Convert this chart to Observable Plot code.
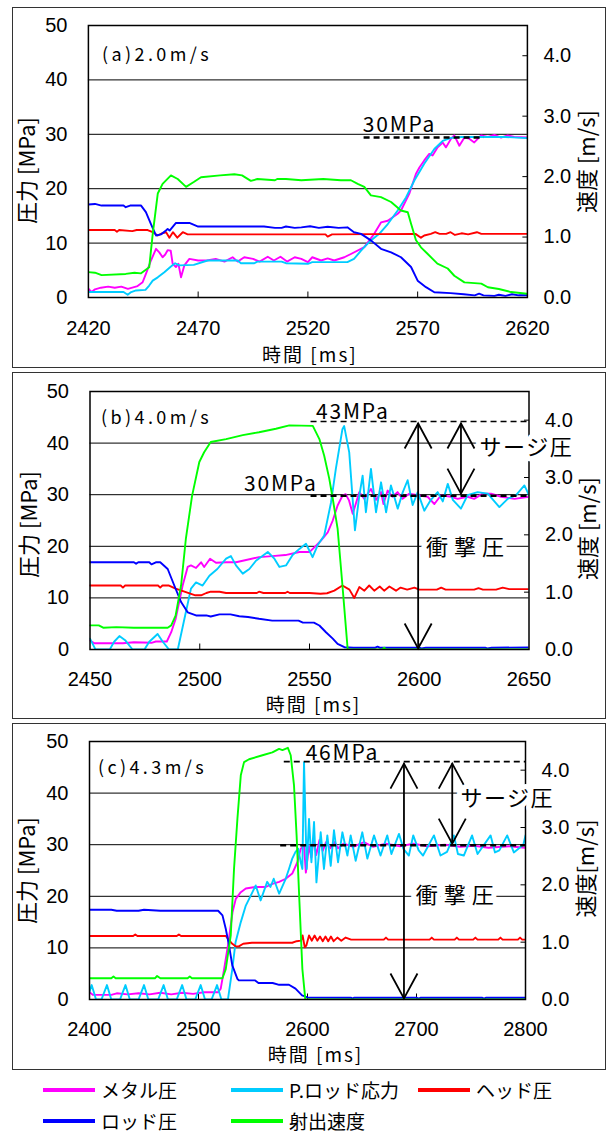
<!DOCTYPE html>
<html><head><meta charset="utf-8">
<script src="https://cdn.jsdelivr.net/npm/d3@7"></script>
<script src="https://cdn.jsdelivr.net/npm/@observablehq/plot@0.6"></script>
<style>
html,body{margin:0;padding:0;background:#fff;}
body{width:608px;height:1135px;position:relative;overflow:hidden;font-family:"Noto Sans CJK JP",sans-serif;}
.box{position:absolute;border:1.5px solid #333;box-sizing:border-box;pointer-events:none;}
.panel{position:absolute;}
.leg{position:absolute;display:flex;align-items:center;font-size:19px;color:#000;height:24px;line-height:24px;}
.sw{display:inline-block;width:52px;height:4px;margin-right:6px;}
</style></head><body>
<script>
// ---------- ticks / categories ----------
const pressureTicks = [0, 10, 20, 30, 40, 50];
const gridTicks = [10, 20, 30, 40];
const speedTicks = [0, 1, 2, 3, 4];
const aTimeTicks = [2420, 2470, 2520, 2570, 2620];
const bTimeTicks = [2450, 2500, 2550, 2600, 2650];
const cTimeTicks = [2400, 2500, 2600, 2700, 2800];
const seriesNames = ["メタル圧", "P.ロッド応力", "ヘッド圧", "ロッド圧", "射出速度"];
const seriesColors = ["#ff00ff", "#00ccff", "#ff0000", "#0000ff", "#00ff00"];

// ---------- panel (a) 2.0 m/s : [time ms, MPa] / speed [time ms, m/s] ----------
const aMetal = [[2420,1.6],[2421.5,1.0],[2423,1.5],[2425.7,1.8],[2429,2.0],[2432,1.8],[2435,2.0],[2438,1.6],[2442.4,2.1],[2444.7,2.8],[2446.2,4.35],[2448.5,6.8],[2450.8,8.95],[2452.3,8.3],[2453.8,7.4],[2455,7.9],[2456.1,8.7],[2457.5,8.6],[2458.4,6.2],[2459.9,5.6],[2461,6.2],[2462.2,3.7],[2463.7,5.9],[2466,7.1],[2470,6.8],[2474,6.8],[2478,7.1],[2482,6.6],[2485.7,7.4],[2488,6.6],[2491,7.4],[2495,7.1],[2498,6.6],[2501.7,7.5],[2504.5,6.8],[2507.5,7.5],[2510.5,6.6],[2514,7.4],[2517,7.1],[2520,6.5],[2522,7.4],[2526,6.8],[2529,7.2],[2532,6.8],[2536.6,7.4],[2539.6,8.0],[2545.7,9.25],[2550.2,11.7],[2553.3,13.8],[2556.4,14.1],[2560.9,15.4],[2562.4,16],[2566.2,19.1],[2569.2,22.7],[2570.8,23.9],[2573,25.2],[2575.3,26.4],[2576.8,26.1],[2579.1,27.6],[2581.4,28.5],[2582.9,27.6],[2585.2,29.2],[2586.7,29.8],[2589,27.9],[2591.3,29.4],[2593.5,29.2],[2595.8,28.5],[2598.9,29.8],[2602,29.5],[2605,29.9],[2608,29.4],[2611,29.8],[2614,29.5],[2620,29.4]];
const aProd = [[2420,1.0],[2436,1.0],[2437.9,0.5],[2439.5,1.0],[2441.7,1.3],[2446,1.4],[2447.7,2.2],[2449.3,3.1],[2451.6,3.7],[2454.6,4.65],[2457.6,5.7],[2459.5,6.3],[2461.4,5.9],[2468,6.0],[2474.3,6.8],[2488,6.8],[2489.5,6.3],[2495.6,6.3],[2497,6.6],[2508,6.6],[2510,6.3],[2520,6.2],[2522,6.5],[2538,6.5],[2541,7.1],[2544.2,8.6],[2545.7,9.25],[2548.7,10.5],[2552.5,11.7],[2556.4,13.5],[2560.9,16],[2564.7,18.4],[2568.5,21.5],[2573,24.6],[2577.6,27.3],[2581.4,28.8],[2585.2,29.35],[2590,29.5],[2610,29.5],[2620,29.3]];
const aHead = [[2420,12.4],[2432,12.4],[2433,12.1],[2434,12.4],[2440,12.2],[2442,12.4],[2447,12.4],[2449.3,12.0],[2451.6,11.4],[2453.5,11.8],[2455.4,12.0],[2456.9,11.0],[2458.5,12.0],[2460.5,11.0],[2463,12.0],[2465.2,11.6],[2528,11.6],[2529,11.2],[2531,11.6],[2569,11.7],[2571.5,11.0],[2573,11.4],[2576,11.7],[2578,12.0],[2580,11.7],[2583,11.7],[2585,12.0],[2587,11.5],[2590,11.8],[2593,11.6],[2597,12.0],[2599,11.7],[2620,11.7]];
const aRod = [[2420,17.1],[2423,17.2],[2426,16.9],[2436,16.9],[2437,16.6],[2439,16.9],[2444,16.9],[2446.2,15.7],[2448.5,13.5],[2450.8,11.4],[2453,11.6],[2455,12.2],[2456.1,12.6],[2457,12.3],[2459.9,13.7],[2466,13.7],[2470,13.05],[2500,13.05],[2505,12.8],[2508,12.8],[2510,13.05],[2514,12.8],[2517,12.9],[2521,13.1],[2525,12.8],[2529,13.0],[2534,12.8],[2538,12.9],[2541,12.0],[2544.2,11.7],[2548.7,10.5],[2553.3,8.95],[2557.9,8.3],[2562.4,7.4],[2567,5.6],[2570,3.1],[2573.8,1.9],[2577.6,0.97],[2585,0.8],[2591,0.6],[2596,0.4],[2598,0.7],[2600,0.4],[2605,0.3],[2607,0.5],[2610,0.3],[2613,0.6],[2616,0.4],[2620,0.4]];
const aSpeed = [[2420,0.42],[2423,0.41],[2426,0.37],[2437,0.39],[2441,0.41],[2444,0.40],[2447.7,0.50],[2449.3,1.05],[2451.6,1.72],[2453.8,1.88],[2457.6,2.02],[2460.7,1.96],[2464.5,1.83],[2468,1.91],[2471.3,1.99],[2480,2.02],[2486.5,2.04],[2490,2.02],[2494,1.93],[2497,1.96],[2505,1.94],[2506,1.96],[2510,1.96],[2517,1.94],[2527,1.96],[2535,1.94],[2539.6,1.94],[2542.7,1.88],[2545.7,1.83],[2548.7,1.69],[2553.3,1.66],[2557.9,1.58],[2562.4,1.44],[2565.5,1.41],[2567,1.22],[2569.2,0.95],[2571.5,0.83],[2574.6,0.72],[2579,0.56],[2583.7,0.48],[2586.7,0.36],[2591.3,0.25],[2599,0.23],[2602,0.17],[2607,0.14],[2612.5,0.09],[2620,0.06]];

// ---------- panel (b) 4.0 m/s ----------
const bMetal = [[2450,1.75],[2452,1.2],[2465,1.2],[2470,1.4],[2478,1.3],[2480,1.55],[2485,1.55],[2487,3.35],[2489,5.9],[2492.2,12.4],[2494.5,16],[2496,16.3],[2498.3,15.8],[2500.6,16.9],[2502,16],[2504.7,17.6],[2507.4,16.8],[2512,16.9],[2516.5,16.9],[2519.6,17.2],[2527,17.9],[2533,18.1],[2539,18.3],[2545.4,18.9],[2550,18.9],[2552.2,19.8],[2555.2,21.1],[2558.3,22.7],[2560.6,25],[2562.8,27.9],[2565,29.8],[2566.5,30.1],[2568,28.9],[2569.7,26.3],[2572.7,30.5],[2575,29.2],[2578,31.1],[2580.3,29.0],[2582.6,30.5],[2583.7,28.2],[2585.6,30.8],[2587.8,29.6],[2590.1,30.5],[2592.4,29.2],[2595.4,30.2],[2599.3,29.9],[2603.8,29.6],[2606.9,28.2],[2609.9,29.9],[2614.5,29.6],[2617.5,29.2],[2622,29.6],[2625,29.2],[2628.9,30.2],[2632.7,30.2],[2637.3,29.6],[2643.4,29.2],[2650,29.6]];
const bProd = [[2450,2.1],[2452.5,0],[2459,0],[2461,1.5],[2463.4,2.6],[2466,1.8],[2469.4,0],[2474.8,0],[2477,1.5],[2480.8,3.0],[2483,1.6],[2486,0],[2490,0],[2493,5.9],[2496,11.8],[2498.3,13],[2501.3,12.4],[2504.4,14.3],[2508,15.6],[2512,17.6],[2514.2,18.1],[2516.5,16.3],[2519.6,14.7],[2522.6,15.6],[2525.6,17.2],[2531,18.9],[2534,17.6],[2536.3,16],[2539.3,16.3],[2542.3,18.3],[2545.4,19.5],[2548.4,20.5],[2551.4,17.9],[2553.7,20.2],[2556.7,22.1],[2559.8,28.5],[2562,35],[2565,42.7],[2565.8,43.3],[2568.1,38.2],[2570.7,23.1],[2572.7,29.8],[2574.2,33.7],[2575.7,26.6],[2578,35],[2580.3,26.6],[2582.6,32.4],[2584.9,26.6],[2587.1,31.8],[2590.2,27.3],[2592.5,30.5],[2594.7,32.8],[2597,28.0],[2599.3,30.5],[2602.3,26.9],[2605.3,29.0],[2608.4,30.5],[2610.7,28.7],[2613,32.1],[2615.3,29.0],[2619,27.3],[2622,29.9],[2626.6,30.5],[2631.2,30.2],[2636.5,27.6],[2640.3,29.2],[2644.1,29.9],[2647.9,31.8],[2650,29.9]];
const bHead = [[2450,12.4],[2464,12.4],[2465,12.0],[2466,12.4],[2481,12.4],[2482,12.0],[2483,12.4],[2486,12.4],[2489,11.8],[2493.7,11.1],[2498,10.5],[2500.6,10.5],[2503,10.95],[2505,11.2],[2509,11.2],[2512,10.95],[2526,10.95],[2527,11.2],[2529,10.95],[2539,10.95],[2540,11.2],[2541,10.95],[2550,10.95],[2555,10.8],[2558,10.9],[2561.3,11.4],[2565,12.4],[2568.2,11.6],[2570.4,10.0],[2572.7,12.1],[2575,11.4],[2577.2,12.4],[2579.5,11.4],[2582,12.2],[2584,11.4],[2586.4,12.2],[2589.4,11.4],[2591.5,12.0],[2594.5,11.6],[2597.8,12.0],[2600,11.6],[2608,11.6],[2610,12.0],[2612,11.6],[2625,11.6],[2627,11.9],[2629,11.6],[2635,11.6],[2638,12.0],[2641,11.7],[2650,11.7]];
const bRod = [[2450,16.9],[2470,16.9],[2471,16.6],[2472,16.9],[2477,16.9],[2478,16.5],[2480,16.9],[2482,16.9],[2485.4,15.6],[2488.4,12.4],[2491.5,9.2],[2494.5,7.2],[2498.3,6.6],[2503,6.6],[2505,6.4],[2509,6.8],[2514,6.8],[2518,6.45],[2522,6.3],[2527,5.95],[2533,5.6],[2545,5.6],[2547,5.2],[2552,5.2],[2554.5,4.65],[2557.5,3.35],[2560.6,2.1],[2562.8,1.1],[2565.9,0.45],[2570,0.35],[2580,0.35],[2581,0.55],[2582,0.35],[2600,0.35],[2601,0.2],[2603,0.35],[2630,0.35],[2631,0.2],[2633,0.35],[2650,0.4]];
const bSpeed = [[2450,0.42],[2454,0.42],[2456,0.38],[2462,0.39],[2470,0.38],[2485.4,0.38],[2487,0.42],[2489,0.59],[2491.5,1.12],[2493.7,1.94],[2496.5,2.68],[2499.8,3.27],[2502,3.44],[2505,3.62],[2512,3.67],[2519.6,3.74],[2527,3.79],[2534.7,3.85],[2540.8,3.91],[2551.5,3.9],[2554.5,3.67],[2556.7,3.38],[2559,2.98],[2560.6,2.63],[2562.8,2.11],[2565,1.12],[2567.4,0],[2583,0],[2584,0.03],[2585,0],[2650,0]];

// ---------- panel (c) 4.3 m/s ----------
const cMetal = [[2400,1.4],[2403,0.9],[2420,0.9],[2425,1.2],[2435,1.0],[2445,1.2],[2455,1.0],[2465,1.3],[2475,1.0],[2485,1.3],[2495,1.1],[2505,1.4],[2518,1.4],[2520.4,2.1],[2523.5,5.9],[2527.5,11.1],[2531.2,16.9],[2534.2,19.5],[2538.8,20.8],[2543.4,21.5],[2552,21.8],[2561.7,21.8],[2567.8,22.4],[2574,22.8],[2580,23.4],[2586,24.4],[2590.7,26.6],[2593.8,29.2],[2596.8,29.9],[2598.5,24.6],[2601.4,29.8],[2603.5,27.5],[2605.5,31.2],[2608,28.0],[2611,30.9],[2614,28.8],[2617,30.5],[2621,29.3],[2625,30.5],[2628,29.3],[2633,30.2],[2642,29.6],[2651.8,30.5],[2660,29.6],[2672,30.2],[2685,29.7],[2697,30.2],[2710,29.7],[2726,30.0],[2740,29.6],[2753,29.8],[2766,29.4],[2785,29.7],[2800,29.4]];
const cProd = [[2400,1.5],[2402,2.8],[2406,0],[2411,0],[2416,2.8],[2420,0],[2428,0],[2433,2.8],[2437,0],[2445,0],[2450,2.8],[2454,0],[2463,0],[2468,2.8],[2472,0],[2480,0],[2485,2.8],[2489,0],[2497,0],[2502,2.8],[2506,0],[2512,0],[2517,2.8],[2521,0],[2527,0],[2531,5.9],[2534,11.1],[2538.8,15],[2543.4,18.2],[2549.5,20.8],[2552.5,22.1],[2557,19.2],[2563,22.8],[2566,21.8],[2569,23.4],[2574,20.5],[2580,23.4],[2583,25.3],[2586,27.3],[2589,28.6],[2591.5,29.2],[2593.8,26.6],[2595.3,25.3],[2596.8,46],[2599.3,25.3],[2601.4,35],[2603.6,26.6],[2606,34.4],[2608.2,22.7],[2612.1,32.4],[2615.1,25.3],[2618.2,31.8],[2621.3,25.9],[2624.3,32.8],[2628,26.6],[2632,32.4],[2636.6,27.9],[2639.6,31.8],[2644.2,26.9],[2650.3,32.4],[2654.9,27.3],[2661,31.8],[2667,27.9],[2673.2,31.8],[2677,28.2],[2683.9,32.1],[2688,29.2],[2693,27.9],[2697,31.8],[2702,28.9],[2706,27.9],[2716,31.8],[2722,27.9],[2728,28.6],[2734.3,31.8],[2738,28.2],[2743.4,27.9],[2751,31.8],[2756,28.2],[2768,31.8],[2772,28.5],[2776,28.9],[2783.2,31.8],[2789.3,28.5],[2798,30],[2800,31.8]];
const cHead = [[2400,12.3],[2440,12.3],[2442,12.6],[2444,12.3],[2480,12.3],[2482,12.6],[2484,12.3],[2525,12.3],[2528,11.5],[2531,10.8],[2534,10.3],[2537,10.3],[2541,10.8],[2549,11.0],[2586,11.0],[2590,11.3],[2594,11.4],[2595.5,12.4],[2597.5,10.1],[2599,10.5],[2601.4,12.4],[2604,11.4],[2606.5,12.4],[2609,11.4],[2611.5,12.2],[2614,11.3],[2616.5,12.2],[2619,11.3],[2621.5,12.2],[2624,11.3],[2627.4,12.0],[2631,11.4],[2635,12.0],[2640,11.6],[2670,11.6],[2672,12.0],[2674,11.6],[2712,11.6],[2714,12.0],[2716,11.6],[2735,11.6],[2737,12.0],[2739,11.6],[2752,11.6],[2754,12.0],[2756,11.6],[2775,11.6],[2777,12.0],[2779,11.6],[2793,11.6],[2795,12.0],[2797,11.6],[2800,11.6]];
const cRod = [[2400,17.4],[2420,17.4],[2425,17.2],[2445,17.2],[2450,17.4],[2465,17.2],[2500,17.2],[2518,17.2],[2522,16.3],[2525,13.7],[2528,10.5],[2531,6.6],[2535.7,4.0],[2537,3.7],[2552,3.7],[2555,3.2],[2568,3.2],[2574,2.85],[2583,2.85],[2589,2.1],[2595,0.8],[2600,0.4],[2640,0.35],[2641,0.15],[2643,0.35],[2700,0.35],[2702,0.15],[2704,0.35],[2760,0.35],[2762,0.15],[2764,0.35],[2800,0.35]];
const cSpeed = [[2400,0.37],[2420,0.37],[2422,0.40],[2424,0.37],[2460,0.37],[2462,0.41],[2465,0.37],[2490,0.37],[2492,0.40],[2494,0.37],[2522,0.37],[2525,0.53],[2529.6,1.12],[2532.6,2.28],[2535.7,3.15],[2538.8,3.91],[2541.8,4.14],[2546.4,4.19],[2558.7,4.26],[2567.8,4.31],[2573.9,4.37],[2577,4.35],[2582,4.39],[2584.6,4.26],[2587.6,3.74],[2590,2.86],[2592.6,1.7],[2595.3,0.53],[2598,0],[2800,0]];

// ---------- annotations ----------
const aTitle = ["(a)2.0m/s"];
const bTitle = ["(b)4.0m/s"];
const cTitle = ["(c)4.3m/s"];
const aRefLines = [{kind:"steady", y:29.4, t1:2545.6, t2:2600.3}];
const aRefLabels = [{t:2545, y:30.4, text:"30MPa"}];
const bRefLines = [{kind:"peak", y:44.2, t1:2550.7, t2:2650}, {kind:"steady", y:29.8, t1:2550.7, t2:2650}];
const bRefLabels = [{t:2553, y:44.7, text:"43MPa"}, {t:2520.2, y:30.8, text:"30MPa"}];
const bArrows = [{t:2599.5, y1:0.2, y2:43.8}, {t:2619, y1:30.2, y2:43.8}];
const bNotes = [{t:2627.5, y:39.0, text:"サージ圧"}, {t:2603.1, y:19.6, text:"衝撃圧"}];
const cRefLines = [{kind:"peak", y:46.1, t1:2578.7, t2:2800}, {kind:"steady", y:29.9, t1:2575.4, t2:2800}];
const cRefLabels = [{t:2598.3, y:46.4, text:"46MPa"}];
const cArrows = [{t:2688.5, y1:0.2, y2:45.7}, {t:2732.8, y1:30.2, y2:45.7}];
const cNotes = [{t:2740.4, y:38.8, text:"サージ圧"}, {t:2699.2, y:20.0, text:"衝撃圧"}];

const letterSpacing = {"(a)2.0m/s":"3.4px","(b)4.0m/s":"3.4px","(c)4.3m/s":"3.4px","30MPa":"1.8px","43MPa":"1.8px","46MPa":"1.8px","サージ圧":"1.5px","衝撃圧":"6px","時間 [ms]":"2px"};

// ---------- layout ----------
const panels = [
  {box:{left:11.5, top:7, width:594.5, height:361}, m:{l:75.9, r:79.6, t:18, b:71}, domain:[2420,2620], ticks:aTimeTicks,
   series:[aMetal,aProd,aHead,aRod,aSpeed], title:aTitle, refLines:aRefLines, refLabels:aRefLabels, arrows:[], notes:[],
   yTitle:"圧力 [MPa]", y2Title:"速度 [m/s]", yT:{dx:-60.4, dy:9}, y2T:{dx:60.2, dy:0}, xT:{dx:2, dy:58}, xPad:23.5, lab:{dx:13.6, dy:30}},
  {box:{left:11.5, top:372, width:594.5, height:346.5}, m:{l:77.5, r:78, t:19, b:69.5}, domain:[2450,2650], ticks:bTimeTicks,
   series:[bMetal,bProd,bHead,bRod,bSpeed], title:bTitle, refLines:bRefLines, refLabels:bRefLabels, arrows:bArrows, notes:bNotes,
   yTitle:"圧力 [MPa]", y2Title:"速度 [m/s]", yT:{dx:-60, dy:4}, y2T:{dx:59.5, dy:8}, xT:{dx:4, dy:56.5}, xPad:21.8, lab:{dx:11, dy:27}},
  {box:{left:11.5, top:723, width:594.5, height:347}, m:{l:77, r:81.5, t:18, b:71}, domain:[2400,2800], ticks:cTimeTicks,
   series:[cMetal,cProd,cHead,cRod,cSpeed], title:cTitle, refLines:cRefLines, refLabels:cRefLabels, arrows:cArrows, notes:cNotes,
   yTitle:"圧力 [MPa]", y2Title:"速度[m/s]", yT:{dx:-61.6, dy:0}, y2T:{dx:61.5, dy:-2}, xT:{dx:8, dy:56.5}, xPad:21.8, lab:{dx:8.4, dy:27}}
];

const SPEED_MAX = 4.5, P_MAX = 50;
const toP = v => v * P_MAX / SPEED_MAX;
const NUM_FONT = '"Liberation Sans", Arial, sans-serif';
const tickUp = {draw(c){ c.moveTo(0,0); c.lineTo(0,-6); }};
const tickIn = {draw(c){ c.moveTo(0,0); c.lineTo(-5,0); }};
const headUp = {draw(c){ c.moveTo(-13.5,25); c.lineTo(0,0); c.lineTo(13.5,25); }};
const headDown = {draw(c){ c.moveTo(-13.5,-25); c.lineTo(0,0); c.lineTo(13.5,-25); }};

function drawPanel(p) {
  const xMax = p.domain[1];
  const marks = [
    Plot.ruleY(gridTicks, {y: d => d, stroke: "#000", strokeWidth: 1}),
    Plot.dot(p.ticks.slice(1, -1), {x: d => d, y: () => 0, symbol: tickUp, fill: "none", stroke: "#000", strokeWidth: 1}),
    Plot.dot(speedTicks, {x: () => xMax, y: d => toP(d), symbol: tickIn, fill: "none", stroke: "#000", strokeWidth: 1}),
    Plot.axisY({ticks: pressureTicks, anchor: "left", tickSize: 0, tickPadding: 21, label: null, fontSize: 20, fontFamily: NUM_FONT, tickFormat: d => String(d)}),
    Plot.axisY({ticks: speedTicks.map(toP), anchor: "right", tickSize: 0, tickPadding: 16, label: null, fontSize: 20, fontFamily: NUM_FONT, tickFormat: d => (d * SPEED_MAX / P_MAX).toFixed(1)}),
    Plot.axisX({ticks: p.ticks, anchor: "bottom", tickSize: 0, tickPadding: p.xPad, label: null, fontSize: 20, fontFamily: NUM_FONT, tickFormat: d => String(d)})
  ];
  p.series.forEach((s, i) => {
    const isSpeed = i === 4;
    marks.push(Plot.line(s, {x: d => d[0], y: isSpeed ? d => toP(d[1]) : d => d[1], stroke: seriesColors[i], strokeWidth: 1.9, clip: true}));
  });
  marks.push(Plot.frame({stroke: "#000", strokeWidth: 1.5}));
  marks.push(Plot.ruleY(p.refLines, {y: "y", x1: "t1", x2: "t2", stroke: "#000",
    strokeWidth: d => d.kind === "steady" ? 2.4 : 1.6, strokeDasharray: "6,4"}));
  if (p.arrows.length) {
    marks.push(Plot.ruleX(p.arrows, {x: "t", y1: "y1", y2: "y2", stroke: "#000", strokeWidth: 1.8}));
    marks.push(Plot.dot(p.arrows, {x: "t", y: "y2", symbol: headUp, fill: "none", stroke: "#000", strokeWidth: 1.8}));
    marks.push(Plot.dot(p.arrows, {x: "t", y: "y1", symbol: headDown, fill: "none", stroke: "#000", strokeWidth: 1.8}));
  }
  marks.push(Plot.text(p.refLabels, {x: "t", y: "y", text: "text", textAnchor: "start", lineAnchor: "bottom", fontSize: 21, fill: "#000"}));
  marks.push(Plot.text(p.notes, {x: "t", y: "y", text: "text", textAnchor: "start", lineAnchor: "middle", fontSize: 22, fill: "#000",
    stroke: "#fff", strokeWidth: 10, strokeLinejoin: "round", paintOrder: "stroke"}));
  marks.push(Plot.text(p.title, {text: d => d, frameAnchor: "top-left", dx: p.lab.dx, dy: p.lab.dy, textAnchor: "start", lineAnchor: "middle", fontSize: 18}));
  marks.push(Plot.text([p.yTitle], {text: d => d, frameAnchor: "left", dx: p.yT.dx, dy: p.yT.dy, rotate: -90, textAnchor: "middle", lineAnchor: "middle", fontSize: 22}));
  marks.push(Plot.text([p.y2Title], {text: d => d, frameAnchor: "right", dx: p.y2T.dx, dy: p.y2T.dy, rotate: -90, textAnchor: "middle", lineAnchor: "middle", fontSize: 22}));
  marks.push(Plot.text(["時間 [ms]"], {text: d => d, frameAnchor: "bottom", dx: p.xT.dx, dy: p.xT.dy, textAnchor: "middle", lineAnchor: "middle", fontSize: 19}));

  const svg = Plot.plot({
    width: p.box.width, height: p.box.height,
    marginLeft: p.m.l, marginRight: p.m.r, marginTop: p.m.t, marginBottom: p.m.b,
    x: {domain: p.domain, label: null},
    y: {domain: [0, P_MAX], label: null},
    style: {fontFamily: '"Noto Sans CJK JP", "Noto Sans", sans-serif', fontSize: "19px", background: "transparent", overflow: "visible", color: "#000"},
    marks
  });
  d3.select(svg).selectAll("text").each(function() {
    const t = this.textContent;
    if (letterSpacing[t]) this.style.letterSpacing = letterSpacing[t];
  });
  const wrap = document.createElement("div");
  wrap.className = "panel";
  Object.assign(wrap.style, {left: p.box.left + "px", top: p.box.top + "px", width: p.box.width + "px", height: p.box.height + "px"});
  wrap.appendChild(svg);
  document.body.appendChild(wrap);
  const box = document.createElement("div");
  box.className = "box";
  Object.assign(box.style, {left: p.box.left + "px", top: p.box.top + "px", width: p.box.width + "px", height: p.box.height + "px"});
  document.body.appendChild(box);
}
panels.forEach(drawPanel);

// ---------- legend (HTML below the charts) ----------
const legendSlots = [{x:43, y:1089.5}, {x:231, y:1089.5}, {x:418, y:1089.5}, {x:43, y:1121}, {x:231, y:1121}];
seriesNames.forEach((name, i) => {
  const el = document.createElement("div");
  el.className = "leg";
  el.style.left = legendSlots[i].x + "px";
  el.style.top = (legendSlots[i].y - 12) + "px";
  const sw = document.createElement("span");
  sw.className = "sw";
  sw.style.background = seriesColors[i];
  const tx = document.createElement("span");
  tx.textContent = name;
  el.appendChild(sw); el.appendChild(tx);
  document.body.appendChild(el);
});
</script>
</body></html>
